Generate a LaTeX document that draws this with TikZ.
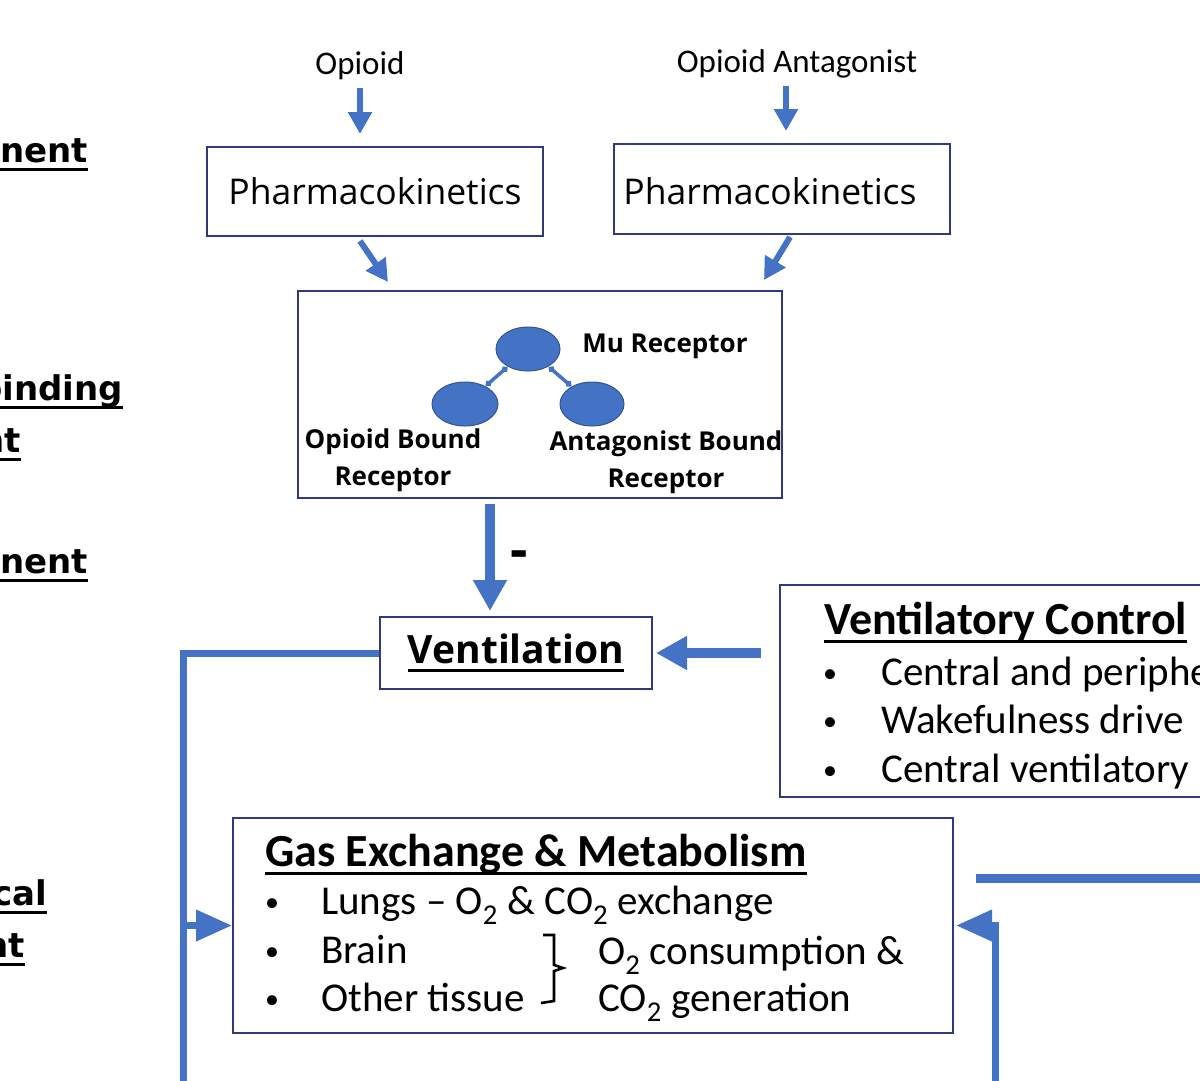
\documentclass[tikz,border=0pt]{standalone}
\usepackage{fontspec}
\usepackage{tikz}
\usetikzlibrary{arrows.meta,positioning,shapes.geometric}
\setmainfont{Carlito}
\newfontfamily\segfont{Open Sans}
\newfontfamily\verfont{DejaVu Sans}
\definecolor{flowblue}{HTML}{4472C4}
\definecolor{boxblue}{HTML}{2F3B7C}
\newcommand{\fsz}[2]{\fontsize{#1}{#2}\selectfont}
\newsavebox{\ulbox}
\newcommand{\ulin}[1]{\sbox\ulbox{#1}\rlap{\rule[-8.5pt]{\wd\ulbox}{2.8pt}}\usebox\ulbox}

\begin{document}
\begin{tikzpicture}[x=1pt,y=-1pt,
    box/.style={draw=boxblue, line width=2pt, inner sep=0pt},
    lbl/.style={inner sep=0pt, text=black},
    sidelbl/.style={lbl, anchor=base west, font=\verfont\bfseries\fsz{34}{40}},
    reclbl/.style={lbl, align=center, font=\segfont\bfseries\fsz{26}{37}},
    bead/.style={ellipse, fill=flowblue, draw=flowblue!75!black, line width=1pt, inner sep=0pt},
    bond/.style={draw=flowblue, line width=3.5pt, {Diamond[length=8pt,width=7pt]}-{Diamond[length=8pt,width=7pt]}},
    dot/.style={lbl, anchor=base, font=\fsz{28}{32}},
    flow/.style={draw=flowblue, line width=7pt},
    thinarrow/.style={draw=flowblue, line width=6pt, -{Triangle[length=22pt,width=23pt]}},
    fatarrow/.style={draw=flowblue, line width=10pt, -{Triangle[length=31pt,width=32pt]}},
    looparrow/.style={flow, -{Triangle[length=36pt,width=30pt]}}]

    % Frame
    \useasboundingbox (0,0) rectangle (1200,1080);
    \clip (0,0) rectangle (1200,1080);

    % Left side labels (cut off by the frame)
    \node[sidelbl] (sideA) at (0,162) {\ulin{nent}};
    \node[sidelbl] (sideB) at (-22,400) {\ulin{binding}};
    \node[sidelbl] (sideC) at (-20,452) {\ulin{nt}};
    \node[sidelbl] (sideD) at (0,573) {\ulin{nent}};
    \node[sidelbl] (sideE) at (-8,905) {\ulin{cal}};
    \node[sidelbl] (sideF) at (-16,957) {\ulin{nt}};

    % Drugs and pharmacokinetics
    \node[lbl] (opioid) at (360,66) {\fsz{33}{40}Opioid};
    \node[lbl] (antag) at (797,64) {\fsz{33}{40}Opioid Antagonist};
    \node[box, minimum width=336pt, minimum height=89pt] (pk1) at (375,191.5) {\segfont\fsz{35.5}{42}Pharmacokinetics};
    \node[box, minimum width=336pt, minimum height=90pt] (pk2) at (782,189) {};
    \node[lbl] (pk2txt) at (770,191) {\segfont\fsz{35.5}{42}Pharmacokinetics};

    \draw[thinarrow] ([yshift=-22pt]opioid.center) -- ([yshift=12pt]opioid.center |- pk1.north);
    \draw[thinarrow] ([xshift=-11pt,yshift=-22pt]antag.center) -- ([xshift=-11pt,yshift=12pt]antag.center |- pk2.north);

    % Receptor binding
    \node[box, minimum width=484pt, minimum height=207pt] (rec) at (540,394.5) {};
    \node[bead, minimum width=64pt, minimum height=44pt] (mu) at (528,349) {};
    \node[bead, minimum width=66pt, minimum height=44pt] (ob) at (465,404) {};
    \node[bead, minimum width=64pt, minimum height=44pt] (ab) at (592,404) {};
    \draw[bond] (mu) -- (ob);
    \draw[bond] (mu) -- (ab);
    \node[reclbl] (mulbl) at (665,346) {Mu Receptor};
    \node[reclbl] (oblbl) at (393,460) {Opioid Bound\\Receptor};
    \node[reclbl] (ablbl) at (666,462) {Antagonist Bound\\Receptor};

    \draw[thinarrow] ([xshift=-15pt,yshift=-4pt]pk1.south) -- ([xshift=-152pt,yshift=8pt]rec.north);
    \draw[thinarrow] ([xshift=8pt,yshift=-2pt]pk2.south) -- ([xshift=224pt,yshift=10pt]rec.north);

    % Ventilation
    \node[box, minimum width=272pt, minimum height=72pt] (vent) at (516,653) {\segfont\bfseries\fsz{39}{46}\ulin{Ventilation}};
    \draw[fatarrow] ([xshift=-50pt,yshift=-5pt]rec.south) -- ([xshift=-26pt,yshift=5pt]vent.north);
    \node[lbl] (minus) at (519,560) {\segfont\bfseries\fsz{54}{60}-};

    % Ventilatory control
    \node[box, minimum width=435pt, minimum height=212pt] (vc) at (997.5,691) {};
    \node[lbl, anchor=base west] (vctitle) at (824,634) {\bfseries\fsz{46}{54}\ulin{Ventilatory Control}};
    \node[dot] (vcb1) at (830,682) {\textbullet};
    \node[dot] (vcb2) at (830,730) {\textbullet};
    \node[dot] (vcb3) at (830,779) {\textbullet};
    \node[lbl, anchor=base west] (vct1) at (881,685) {\fsz{41}{48}Central and periphe};
    \node[lbl, anchor=base west] (vct2) at (881,733) {\fsz{41}{48}Wakefulness drive};
    \node[lbl, anchor=base west] (vct3) at (881,782) {\fsz{41}{48}Central ventilatory};
    \draw[fatarrow] ([xshift=-18pt]vc.west |- vent.east) -- ([xshift=3pt]vent.east);

    % Gas exchange
    \node[box, minimum width=720pt, minimum height=215pt] (gas) at (593,925.5) {};
    \node[lbl, anchor=base west] (gastitle) at (265,866) {\bfseries\fsz{46}{54}\ulin{Gas Exchange \& Metabolism}};
    \node[dot] (gb1) at (272,911) {\textbullet};
    \node[dot] (gb2) at (272,960) {\textbullet};
    \node[dot] (gb3) at (272,1008) {\textbullet};
    \node[lbl, anchor=base west] (gt1) at (321,914) {\fsz{41}{48}Lungs -- O\textsubscript{2} \& CO\textsubscript{2} exchange};
    \node[lbl, anchor=base west] (gt2) at (321,963) {\fsz{41}{48}Brain};
    \node[lbl, anchor=base west] (gt3) at (321,1011) {\fsz{41}{48}Other tissue};
    \draw[line width=2.6pt, line join=miter] (543,935) -- (554,935) -- (554,965) -- (563,968) -- (554,971) -- (554,1001) -- (541,1003);
    \node[lbl, anchor=base west] (gt4) at (598,964) {\fsz{41}{48}O\textsubscript{2} consumption \&};
    \node[lbl, anchor=base west] (gt5) at (598,1011) {\fsz{41}{48}CO\textsubscript{2} generation};

    % Feedback loops
    \coordinate (loopL) at (183,1090);
    \coordinate (loopR) at (995,1090);
    \coordinate (outR) at (1210,878);
    \draw[flow] (vent.west) -| (loopL);
    \draw[looparrow] (loopL |- gas.west) -- (gas.west);
    \draw[looparrow] (loopR) |- ([xshift=2pt]gas.east);
    \draw[flow, line width=9pt] ([xshift=22pt]gas.east |- outR) -- (outR);
\end{tikzpicture}
\end{document}
